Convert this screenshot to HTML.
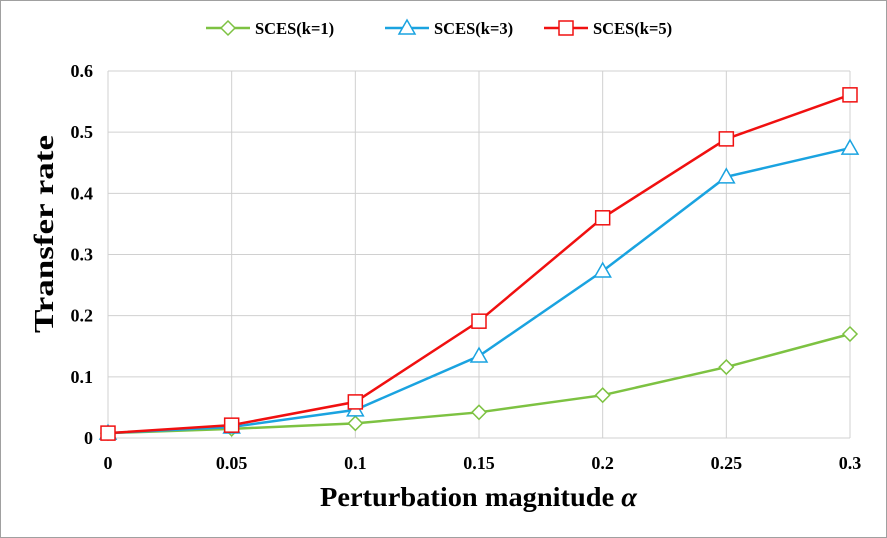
<!DOCTYPE html>
<html><head><meta charset="utf-8"><style>
body{margin:0;background:#fff;}
svg{display:block;font-family:"Liberation Serif",serif;font-weight:bold;}
</style></head><body>
<svg id="chart" width="887" height="538">
<rect x="0.5" y="0.5" width="886" height="537" fill="#fff" stroke="#a0a0a0"/>
<g id="grid"></g>
<g id="ticks"></g>
<g id="series"></g>
<text x="320" y="506" textLength="317" lengthAdjust="spacingAndGlyphs" font-size="27">Perturbation magnitude <tspan font-style="italic">α</tspan></text>
<text transform="translate(53,234) rotate(-90)" text-anchor="middle" textLength="198" lengthAdjust="spacingAndGlyphs" font-size="27">Transfer rate</text>
<g id="legend"></g>
</svg>
<script>
const xCats=[0,0.05,0.1,0.15,0.2,0.25,0.3];
const xLabels=["0","0.05","0.1","0.15","0.2","0.25","0.3"];
const yTicks=[0,0.1,0.2,0.3,0.4,0.5,0.6];
const yLabels=["0","0.1","0.2","0.3","0.4","0.5","0.6"];
const k1=[0.008,0.015,0.024,0.042,0.070,0.116,0.170];
const k3=[0.008,0.018,0.046,0.134,0.273,0.427,0.474];
const k5=[0.008,0.021,0.059,0.191,0.360,0.489,0.561];
const names=["SCES(k=1)","SCES(k=3)","SCES(k=5)"];
const NS="http://www.w3.org/2000/svg";
const X=v=>108+v/0.3*742, Y=v=>438-v/0.6*367;
function mk(t,a,p){const e=document.createElementNS(NS,t);for(const k in a)e.setAttribute(k,a[k]);p.appendChild(e);return e;}
const grid=document.getElementById('grid'),ticks=document.getElementById('ticks');
yTicks.forEach((v,i)=>{const l=mk('line',{x1:108,x2:850,y1:Y(v),y2:Y(v),stroke:'#d0d0d0'},grid);


const t=mk('text',{x:93,y:Y(v)+6,'text-anchor':'end','font-size':18},ticks);t.textContent=yLabels[i];

});
xCats.forEach((v,i)=>{const l=mk('line',{x1:X(v),x2:X(v),y1:Y(0.6),y2:438,stroke:'#d0d0d0'},grid);


const t=mk('text',{x:X(v),y:469,'text-anchor':'middle','font-size':18},ticks);t.textContent=xLabels[i];

});
function marker(type,x,y,c,p){let e;
if(type==0)e=mk('polygon',{points:`${x},${y-7} ${x+7},${y} ${x},${y+7} ${x-7},${y}`,fill:'#fff',stroke:c,'stroke-width':1.5},p);
else if(type==1)e=mk('polygon',{points:`${x},${y-8} ${x+8},${y+6} ${x-8},${y+6}`,fill:'#fff',stroke:c,'stroke-width':1.5},p);
else e=mk('rect',{x:x-7,y:y-7,width:14,height:14,fill:'#fff',stroke:c,'stroke-width':1.5},p);

}
const ser=document.getElementById('series');
const all=[k1,k3,k5],cols=['#7dc242','#1aa3e0','#f01010'];
all.forEach((d,s)=>{const g=mk('g',{},ser);


mk('polyline',{points:d.map((v,i)=>X(xCats[i])+','+Y(v)).join(' '),fill:'none',stroke:cols[s],'stroke-width':2.5},g);
d.forEach((v,i)=>marker(s,X(xCats[i]),Y(v),cols[s],g));});
const lg=document.getElementById('legend');const lx=[228,407,566];
names.forEach((n,s)=>{const g=mk('g',{},lg);


mk('line',{x1:lx[s]-22,x2:lx[s]+22,y1:28,y2:28,stroke:cols[s],'stroke-width':2.5},g);
marker(s,lx[s],28,cols[s],g);
const t=mk('text',{x:lx[s]+27,y:34,'font-size':16.5},g);t.textContent=n;});
</script>
</body></html>
